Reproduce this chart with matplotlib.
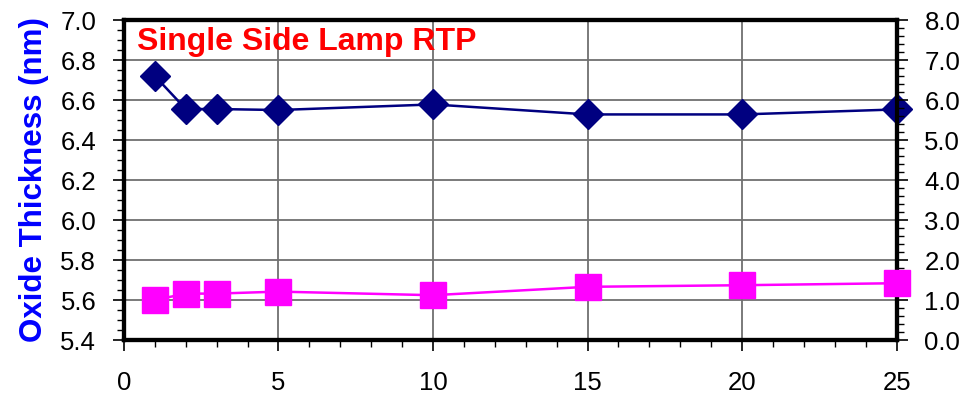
import matplotlib
matplotlib.use('Agg')
import matplotlib.pyplot as plt
from matplotlib.ticker import MultipleLocator, FormatStrFormatter

plt.rcParams['font.family'] = ['Liberation Sans', 'DejaVu Sans']

# lamp position / run index
x_vals = [1, 2, 3, 5, 10, 15, 20, 25]
# oxide thickness (nm), left axis
thickness = [6.72, 6.555, 6.555, 6.55, 6.578, 6.528, 6.528, 6.553]
# non-uniformity, right axis
uniformity = [1.00, 1.16, 1.16, 1.21, 1.12, 1.33, 1.37, 1.42]

fig = plt.figure(figsize=(9.61, 3.96), dpi=100)
ax = fig.add_axes([0.129, 0.1414, 0.804, 0.808])
ax2 = ax.twinx()

ax.set_xlim(0, 25)
ax.set_ylim(5.4, 7.0)
ax2.set_ylim(0.0, 8.0)

ax.xaxis.set_major_locator(MultipleLocator(5))
ax.xaxis.set_minor_locator(MultipleLocator(1))
ax.yaxis.set_major_locator(MultipleLocator(0.2))
ax.yaxis.set_minor_locator(MultipleLocator(0.05))
ax.yaxis.set_major_formatter(FormatStrFormatter('%.1f'))
ax2.yaxis.set_major_locator(MultipleLocator(1.0))
ax2.yaxis.set_minor_locator(MultipleLocator(0.2))
ax2.yaxis.set_major_formatter(FormatStrFormatter('%.1f'))

ax.grid(True, which='major', color='#707070', linewidth=1.3)
ax.set_axisbelow(True)

for a in (ax, ax2):
    for s in a.spines.values():
        s.set_linewidth(3)
    a.tick_params(which='major', direction='out', length=8, width=1.2,
                  labelsize=18.5, colors='black')
    a.tick_params(which='minor', direction='out', length=5, width=1.0)
ax.tick_params(axis='y', which='major', pad=12)
ax2.tick_params(axis='y', which='major', pad=12)
ax.tick_params(axis='x', which='major', pad=14)

ax.plot(x_vals, thickness, color='#000080', linewidth=1.8, marker='D',
        markersize=15.5, zorder=5, clip_on=False)
ax2.plot(x_vals, uniformity, color='#FF00FF', linewidth=1.8, marker='s',
         markersize=19, zorder=5, clip_on=False)

ax.set_ylabel('Oxide Thickness (nm)', color='#0000FF', fontsize=22.5,
              fontweight='bold', labelpad=8)
ax.text(0.017, 0.906, 'Single Side Lamp RTP', transform=ax.transAxes,
        color='#FF0000', fontsize=23, fontweight='bold', ha='left',
        va='baseline', zorder=10)

fig.savefig('out.png', dpi=100)
